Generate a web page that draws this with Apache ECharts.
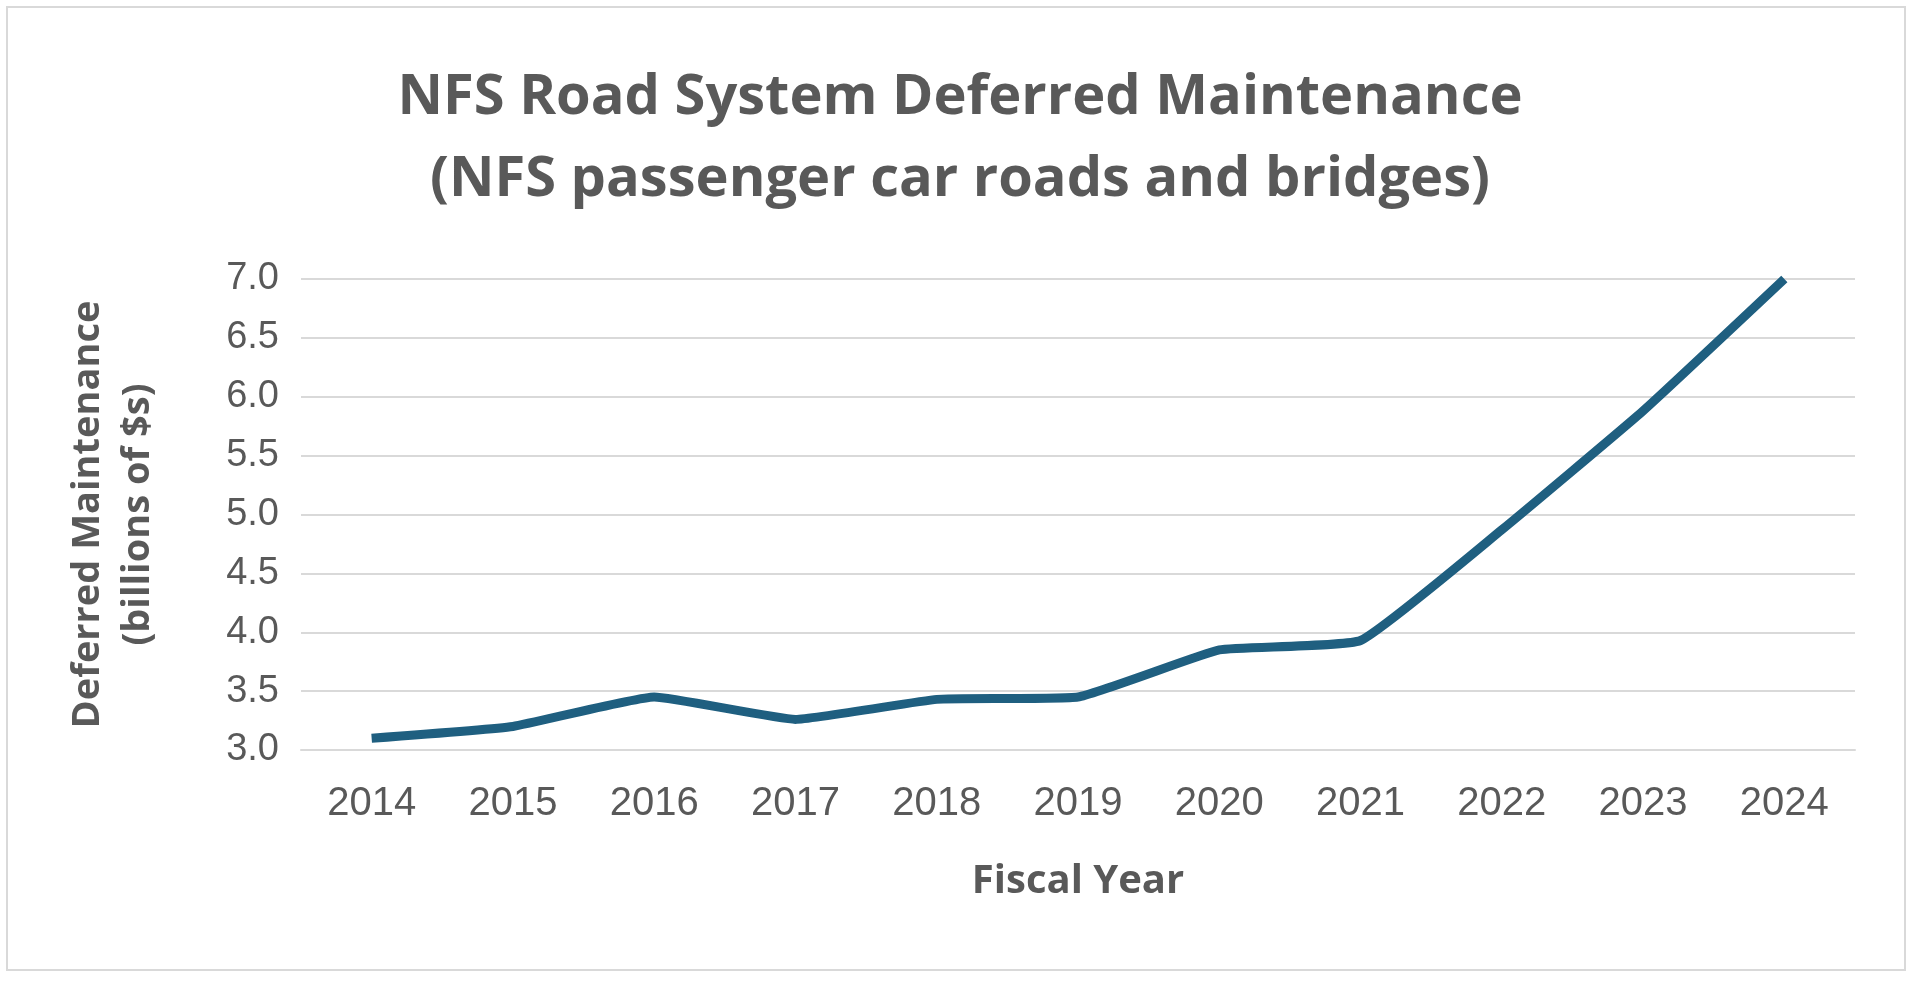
<!DOCTYPE html>
<html lang="en">
<head>
    <meta charset="UTF-8">
    <title>NFS Road System Deferred Maintenance</title>
    <script src="https://cdn.jsdelivr.net/npm/echarts@6/dist/echarts.min.js"></script>
</head>
<style>
    html, body { margin: 0; padding: 0; background: #fff; }
    #chart { width: 1920px; height: 985px; }
    #frame { position: absolute; left: 6px; top: 6px; width: 1900px; height: 965px; border: 2px solid #d9d9d9; box-sizing: border-box; pointer-events: none; }
</style>
<body>
    <div id="chart"></div>
    <div id="frame"></div>
    <script>
        var years = ['2014', '2015', '2016', '2017', '2018', '2019', '2020', '2021', '2022', '2023', '2024'];
        var maintenance = [3.1, 3.2, 3.45, 3.26, 3.43, 3.45, 3.85, 3.93, 4.87, 5.88, 7.0];

        var myChart = echarts.init(document.getElementById('chart'));
        var option = {
            title: {
                text: 'NFS Road System Deferred Maintenance\n(NFS passenger car roads and bridges)',
                left: 'center',
                top: 52,
                textStyle: {
                    fontFamily: 'Open Sans',
                    fontWeight: 'bold',
                    fontSize: 56,
                    lineHeight: 82,
                    color: '#595959'
                }
            },
            grid: { left: 301, right: 65, top: 279, bottom: 235 },
            xAxis: {
                type: 'category',
                data: years,
                name: 'Fiscal Year',
                nameLocation: 'middle',
                nameGap: 112,
                nameTextStyle: { fontFamily: 'Open Sans', fontWeight: 'bold', fontSize: 40, color: '#595959' },
                axisLine: { lineStyle: { color: '#d9d9d9', width: 2 } },
                axisTick: { show: false },
                axisLabel: { fontFamily: 'Liberation Sans', fontSize: 40, color: '#595959', margin: 34 }
            },
            yAxis: {
                type: 'value',
                min: 3.0,
                max: 7.0,
                interval: 0.5,
                name: 'Deferred Maintenance\n(billions of $s)',
                nameLocation: 'middle',
                nameGap: 138,
                nameTextStyle: { fontFamily: 'Open Sans', fontWeight: 'bold', fontSize: 38, lineHeight: 50, color: '#595959' },
                axisLabel: { fontFamily: 'Liberation Sans', fontSize: 38, color: '#595959', margin: 22,
                    formatter: function (v) { return v.toFixed(1); } },
                splitLine: { lineStyle: { color: '#d9d9d9', width: 2 } }
            },
            series: [{
                type: 'line',
                data: maintenance,
                smooth: 0.12,
                symbol: 'none',
                lineStyle: { color: '#1f5f80', width: 9 }
            }]
        };
        myChart.setOption(option);
    </script>
</body>
</html>
